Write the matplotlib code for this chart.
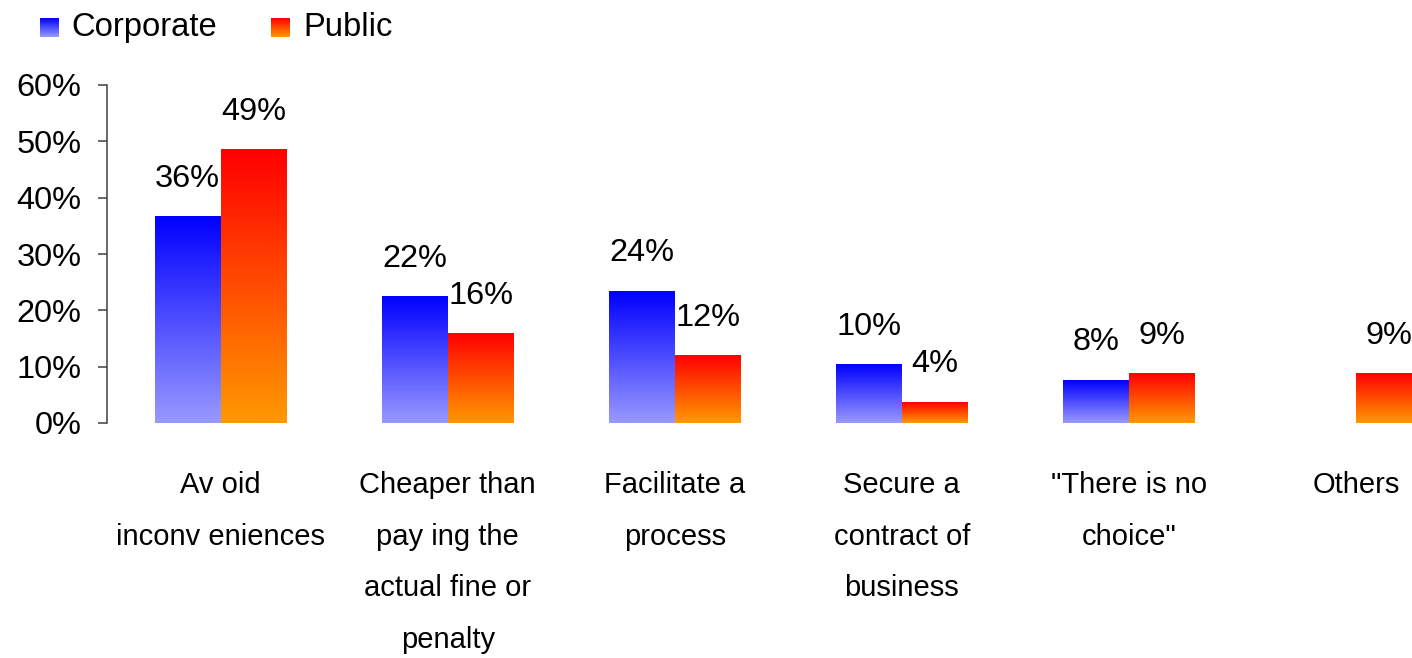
import matplotlib
matplotlib.use('Agg')
import matplotlib.pyplot as plt
import numpy as np
from matplotlib import font_manager as fm
from matplotlib.colors import LinearSegmentedColormap

# ---- data ----
categories = ['Av oid\ninconv eniences',
              'Cheaper than\npay ing the\nactual fine or\npenalty',
              'Facilitate a\nprocess',
              'Secure a\ncontract of\nbusiness',
              '"There is no\nchoice"',
              'Others']
series_names = ['Corporate', 'Public']
corporate = [36.6, 22.4, 23.4, 10.3, 7.6, 0.0]
public = [48.5, 15.8, 11.9, 3.7, 8.7, 8.7]
corporate_labels = ['36%', '22%', '24%', '10%', '8%', '']
public_labels = ['49%', '16%', '12%', '4%', '9%', '9%']
yticks = [0, 10, 20, 30, 40, 50, 60]

# ---- style ----
names = {f.name for f in fm.fontManager.ttflist}
main_font = 'Liberation Sans' if 'Liberation Sans' in names else 'DejaVu Sans'
narrow_font = 'Liberation Sans Narrow' if 'Liberation Sans Narrow' in names else main_font
x_fs = 23 if narrow_font != main_font else 21
x_ls = 1.92 if narrow_font != main_font else 2.08
plt.rcParams['font.family'] = [main_font, 'DejaVu Sans']

corp_cmap = LinearSegmentedColormap.from_list('corp', ['#9999FF', '#0000FF'])
pub_cmap = LinearSegmentedColormap.from_list('pub', ['#FF9900', '#FF0000'])
cmaps = [corp_cmap, pub_cmap]

W, H = 1412, 658
fig = plt.figure(figsize=(W / 100, H / 100), dpi=100)
left_px, right_px = 107, 107 + 6 * 227.1
bot_px, top_px = 423, 85
ax = fig.add_axes([left_px / W, (H - bot_px) / H, (right_px - left_px) / W, (bot_px - top_px) / H])

x = np.arange(len(categories))
w = 0.29
grad = np.linspace(0, 1, 256).reshape(-1, 1)
for si, (vals, labs) in enumerate([(corporate, corporate_labels), (public, public_labels)]):
    offs = -w / 2 if si == 0 else w / 2
    bars = ax.bar(x + offs, vals, w, color='none', edgecolor='none', zorder=1)
    for b, v, lab in zip(bars, vals, labs):
        if v > 0:
            x0 = b.get_x()
            ax.imshow(grad, extent=[x0, x0 + b.get_width(), 0, v], origin='lower',
                      cmap=cmaps[si], aspect='auto', zorder=2, interpolation='bilinear')
        if lab:
            ax.annotate(lab, (b.get_x() + b.get_width() / 2, v), xytext=(0, 21.6),
                        textcoords='offset points', ha='center', va='baseline',
                        fontsize=23.4, color='black')

ax.set_xlim(-0.5, len(categories) - 0.5)
ax.set_ylim(0, 60)
ax.set_yticks(yticks)
ax.set_yticklabels([f'{t}%' for t in yticks], fontsize=23.4)
ax.set_xticks(x)
ax.set_xticklabels(categories, fontsize=x_fs, family=[narrow_font, 'DejaVu Sans'], linespacing=x_ls)
ax.tick_params(axis='x', length=0, pad=34.5)
ax.tick_params(axis='y', length=6.5, width=1.1, color='#404040', pad=12)
for s in ['top', 'right', 'bottom']:
    ax.spines[s].set_visible(False)
ax.spines['left'].set_color('#404040')
ax.spines['left'].set_linewidth(1.1)

# ---- legend ----
leg_items = [(series_names[0], 40, 71), (series_names[1], 271, 303)]
for i, (name, sq_x, tx) in enumerate(leg_items):
    lax = fig.add_axes([sq_x / W, (H - 37) / H, 19 / W, 19 / H])
    lax.imshow(grad, origin='lower', cmap=cmaps[i], aspect='auto', extent=[0, 1, 0, 1])
    lax.axis('off')
    fig.text(tx / W, (H - 27.5) / H, name, fontsize=23.6, va='center', ha='left')

fig.savefig('out.png', dpi=100)
